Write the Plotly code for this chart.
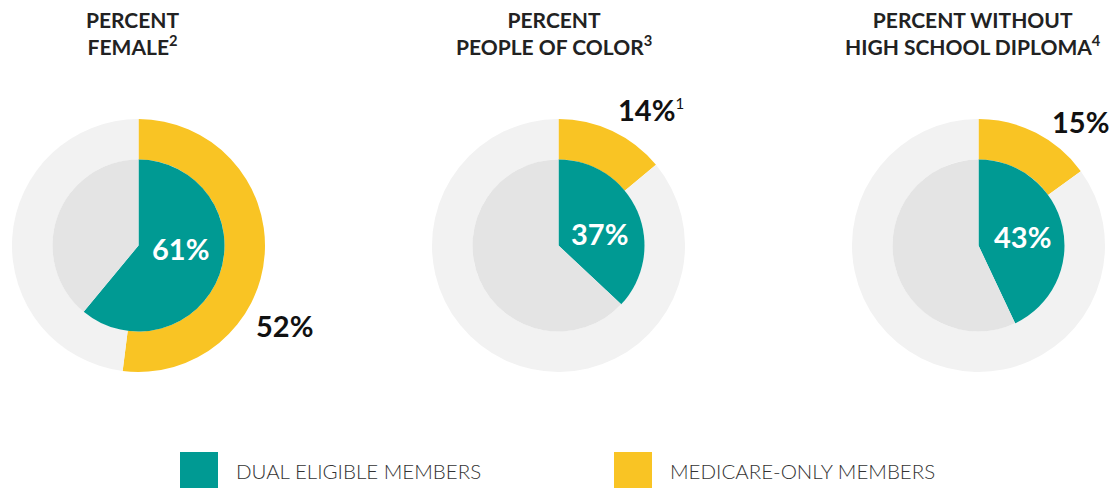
import plotly.graph_objects as go

# ---- data ----
titles = ["PERCENT<br>FEMALE<sup>2</sup>",
          "PERCENT<br>PEOPLE OF COLOR<sup>3</sup>",
          "PERCENT WITHOUT<br>HIGH SCHOOL DIPLOMA<sup>4</sup>"]
dual_pct = [61, 37, 43]
medicare_pct = [52, 14, 15]
medicare_notes = ["", "1", ""]
legend_labels = ["DUAL ELIGIBLE MEMBERS", "MEDICARE-ONLY MEMBERS"]

# ---- style ----
W, H = 1109, 488
TEAL = "#009a93"
YELLOW = "#f9c424"
OUTER_GRAY = "#f2f2f2"
INNER_GRAY = "#e4e4e4"
FONT = "Lato"
centers_x = [138.5, 558.5, 978.5]
center_y = 245.5
R_OUT, R_IN = 126.5, 86
title_x = [133, 554, 973]
outer_lab = [(284, 325), (651, 110), (1080, 121)]
inner_lab = [(180, 248), (600, 233), (1022, 236)]


def px(x):
    return x / W


def py(y):
    return 1 - y / H


fig = go.Figure()
for i in range(3):
    cx = centers_x[i]
    fig.add_trace(go.Pie(
        values=[medicare_pct[i], 100 - medicare_pct[i]],
        labels=["Medicare-only", "Other"],
        marker=dict(colors=[YELLOW, OUTER_GRAY], line=dict(width=0)),
        hole=R_IN / R_OUT, sort=False, direction="clockwise", rotation=0,
        textinfo="none", hoverinfo="skip", showlegend=False,
        domain=dict(x=[px(cx - R_OUT), px(cx + R_OUT)],
                    y=[py(center_y + R_OUT), py(center_y - R_OUT)]),
    ))
    fig.add_trace(go.Pie(
        values=[dual_pct[i], 100 - dual_pct[i]],
        labels=["Dual eligible", "Other "],
        marker=dict(colors=[TEAL, INNER_GRAY], line=dict(width=0)),
        sort=False, direction="clockwise", rotation=0,
        textinfo="none", hoverinfo="skip", showlegend=False,
        domain=dict(x=[px(cx - R_IN), px(cx + R_IN)],
                    y=[py(center_y + R_IN), py(center_y - R_IN)]),
    ))

annotations = []
for i in range(3):
    annotations.append(dict(
        x=px(title_x[i]), y=py(33), xref="paper", yref="paper",
        text=titles[i], showarrow=False, xanchor="center", yanchor="middle",
        align="center",
        font=dict(family=FONT, size=21, color="#222222", weight="bold"),
    ))
    note = medicare_notes[i]
    note_txt = (f"<sup><span style='font-size:15px;font-weight:normal'>{note}</span></sup>"
                if note else "")
    annotations.append(dict(
        x=px(outer_lab[i][0]), y=py(outer_lab[i][1]), xref="paper", yref="paper",
        text=f"{medicare_pct[i]}%{note_txt}", showarrow=False,
        xanchor="center", yanchor="middle",
        font=dict(family=FONT, size=29, color="#111111", weight="bold"),
    ))
    annotations.append(dict(
        x=px(inner_lab[i][0]), y=py(inner_lab[i][1]), xref="paper", yref="paper",
        text=f"{dual_pct[i]}%", showarrow=False,
        xanchor="center", yanchor="middle",
        font=dict(family=FONT, size=29, color="#ffffff", weight="bold"),
    ))

# legend
swatch_x = [180, 614]
colors = [TEAL, YELLOW]
shapes = []
for j in range(2):
    shapes.append(dict(type="rect", xref="paper", yref="paper",
                       x0=px(swatch_x[j]), x1=px(swatch_x[j] + 38),
                       y0=py(488), y1=py(452),
                       fillcolor=colors[j], line=dict(width=0)))
    annotations.append(dict(
        x=px(swatch_x[j] + 54), y=py(471), xref="paper", yref="paper",
        text=legend_labels[j], showarrow=False, xanchor="left", yanchor="middle",
        font=dict(family=FONT, size=20.5, color="#333333", weight=300),
    ))

fig.update_layout(
    width=W, height=H, margin=dict(l=0, r=0, t=0, b=0),
    paper_bgcolor="white", plot_bgcolor="white",
    annotations=annotations, shapes=shapes, showlegend=False,
)
fig.write_html("out.html")
